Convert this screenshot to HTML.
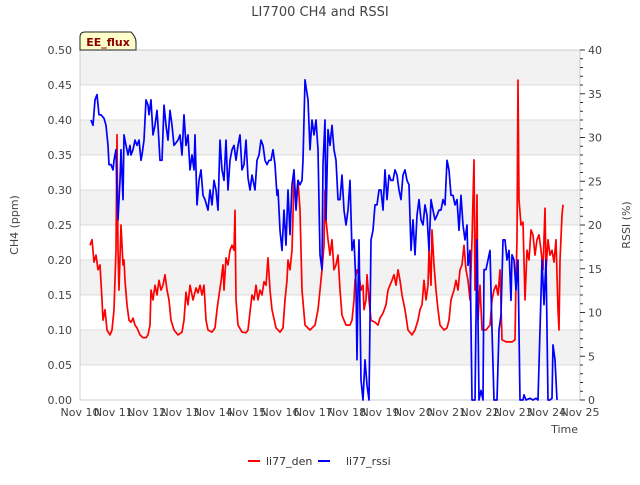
<!DOCTYPE html>
<html><head><meta charset="utf-8"><style>
body{margin:0;background:#fff;font-family:"Liberation Sans",sans-serif}
svg text{font-family:"DejaVu Sans","Liberation Sans",sans-serif}
</style></head><body>
<svg id="chart" width="640" height="480" xmlns="http://www.w3.org/2000/svg">
<g id="bands"></g><g id="grid"></g><g id="axes"></g><g id="series"></g>
<text x="320" y="16" text-anchor="middle" font-size="13" fill="#444">LI7700 CH4 and RSSI</text>
<text transform="translate(18,225) rotate(-90)" text-anchor="middle" font-size="11" fill="#444">CH4 (ppm)</text>
<text transform="translate(630,225) rotate(-90)" text-anchor="middle" font-size="11" fill="#444">RSSI (%)</text>
<text x="578" y="433" text-anchor="end" font-size="11" fill="#444">Time</text>
<g>
<path d="M80,50 L80,37 Q80,32 85,32 L131,32 Q136,37 136,42 L136,50 Z" fill="#ffffcc" stroke="#222" stroke-width="1"/>
<text x="108" y="46" text-anchor="middle" font-size="11" font-weight="bold" fill="#8b0000">EE_flux</text>
</g>
<g>
<line x1="248" y1="461" x2="260" y2="461" stroke="#f00" stroke-width="2"/>
<text x="266" y="465" font-size="11" fill="#333">li77_den</text>
<line x1="318" y1="461" x2="330" y2="461" stroke="#00f" stroke-width="2"/>
<text x="346" y="465" font-size="11" fill="#333">li77_rssi</text>
</g>
</svg>
<script>
const xTickLabels=["Nov 10","Nov 11","Nov 12","Nov 13","Nov 14","Nov 15","Nov 16","Nov 17","Nov 18","Nov 19","Nov 20","Nov 21","Nov 22","Nov 23","Nov 24","Nov 25"];
const leftTicks=[0,0.05,0.1,0.15,0.2,0.25,0.3,0.35,0.4,0.45,0.5];
const rightTicks=[0,5,10,15,20,25,30,35,40];
const denTime=[10.30,10.36,10.42,10.48,10.54,10.60,10.66,10.69,10.75,10.81,10.90,10.96,11.02,11.08,11.11,11.14,11.17,11.23,11.29,11.32,11.35,11.41,11.47,11.53,11.59,11.65,11.71,11.80,11.89,11.98,12.04,12.10,12.13,12.19,12.25,12.31,12.37,12.43,12.49,12.55,12.61,12.67,12.73,12.82,12.94,13.06,13.12,13.18,13.24,13.30,13.39,13.48,13.54,13.60,13.66,13.72,13.78,13.84,13.96,14.05,14.11,14.17,14.23,14.29,14.32,14.38,14.44,14.50,14.56,14.62,14.65,14.68,14.74,14.86,14.98,15.04,15.10,15.16,15.22,15.28,15.34,15.40,15.46,15.52,15.58,15.64,15.70,15.76,15.88,16.00,16.09,16.15,16.21,16.24,16.30,16.36,16.42,16.48,16.54,16.60,16.66,16.75,16.90,17.05,17.14,17.20,17.26,17.32,17.35,17.38,17.44,17.50,17.56,17.62,17.68,17.74,17.80,17.86,17.98,18.10,18.16,18.22,18.25,18.31,18.37,18.43,18.49,18.52,18.58,18.61,18.67,18.73,18.85,18.94,19.00,19.09,19.18,19.24,19.30,19.36,19.42,19.48,19.54,19.60,19.66,19.75,19.84,19.96,20.05,20.14,20.20,20.26,20.32,20.38,20.44,20.47,20.53,20.56,20.62,20.68,20.74,20.80,20.92,21.01,21.07,21.13,21.22,21.28,21.34,21.40,21.46,21.52,21.58,21.64,21.70,21.76,21.82,21.85,21.88,21.91,21.94,22.00,22.06,22.18,22.30,22.36,22.42,22.48,22.54,22.60,22.66,22.78,22.96,23.05,23.08,23.11,23.14,23.17,23.23,23.29,23.35,23.41,23.47,23.53,23.59,23.65,23.71,23.77,23.83,23.89,23.95,23.98,24.04,24.10,24.16,24.22,24.28,24.34,24.37,24.40,24.46,24.49];
const denValues=[.221,.229,.197,.207,.186,.193,.143,.114,.129,.100,.093,.100,.129,.214,.379,.214,.157,.250,.193,.200,.171,.136,.114,.111,.117,.107,.103,.093,.089,.089,.093,.107,.157,.143,.164,.150,.171,.157,.164,.179,.157,.143,.114,.100,.093,.097,.114,.154,.136,.164,.143,.160,.153,.164,.150,.164,.114,.100,.097,.103,.129,.150,.169,.193,.157,.203,.193,.214,.221,.214,.271,.143,.107,.097,.096,.100,.126,.150,.143,.164,.143,.157,.150,.169,.164,.203,.157,.129,.103,.097,.103,.143,.171,.200,.186,.214,.314,.286,.314,.271,.157,.107,.100,.107,.129,.157,.186,.221,.300,.257,.229,.207,.229,.186,.193,.207,.157,.121,.107,.107,.114,.143,.171,.186,.179,.157,.164,.129,.143,.179,.143,.114,.111,.107,.117,.124,.136,.157,.164,.171,.179,.164,.186,.171,.150,.129,.100,.093,.100,.114,.129,.136,.171,.143,.164,.214,.164,.243,.193,.157,.129,.107,.100,.103,.114,.143,.157,.171,.157,.186,.193,.221,.186,.171,.143,.229,.343,.157,.200,.293,.114,.164,.100,.100,.107,.143,.157,.164,.150,.186,.086,.083,.083,.086,.171,.229,.457,.286,.250,.254,.143,.214,.200,.243,.236,.207,.229,.236,.214,.186,.274,.186,.229,.207,.214,.197,.229,.129,.100,.200,.264,.279];
const rssiTime=[10.33,10.39,10.45,10.51,10.57,10.63,10.72,10.78,10.84,10.87,10.93,10.99,11.02,11.08,11.11,11.14,11.20,11.23,11.29,11.32,11.38,11.44,11.50,11.53,11.59,11.65,11.71,11.77,11.83,11.86,11.92,11.98,12.04,12.07,12.13,12.19,12.25,12.31,12.34,12.40,12.46,12.52,12.58,12.64,12.70,12.76,12.82,12.88,12.94,13.00,13.06,13.12,13.18,13.24,13.30,13.36,13.42,13.45,13.51,13.57,13.63,13.69,13.75,13.84,13.90,13.96,14.02,14.08,14.14,14.20,14.26,14.32,14.38,14.44,14.50,14.56,14.62,14.68,14.74,14.80,14.86,14.92,14.98,15.04,15.10,15.16,15.25,15.31,15.37,15.43,15.49,15.55,15.61,15.67,15.73,15.79,15.85,15.91,15.94,16.00,16.06,16.12,16.18,16.24,16.30,16.36,16.42,16.48,16.54,16.60,16.66,16.69,16.75,16.84,16.90,16.96,17.02,17.08,17.14,17.20,17.26,17.29,17.35,17.38,17.44,17.50,17.56,17.62,17.68,17.74,17.80,17.86,17.92,17.98,18.04,18.10,18.16,18.22,18.28,18.31,18.34,18.37,18.43,18.49,18.55,18.61,18.67,18.73,18.79,18.85,18.91,18.97,19.03,19.09,19.15,19.21,19.27,19.33,19.39,19.45,19.51,19.57,19.63,19.69,19.75,19.81,19.87,19.93,19.99,20.05,20.11,20.17,20.23,20.29,20.35,20.41,20.47,20.53,20.59,20.65,20.71,20.77,20.83,20.89,20.95,21.01,21.07,21.13,21.19,21.25,21.31,21.37,21.43,21.49,21.55,21.61,21.64,21.70,21.76,21.85,21.91,21.97,22.03,22.09,22.12,22.18,22.24,22.30,22.36,22.42,22.51,22.57,22.63,22.69,22.75,22.81,22.87,22.93,22.96,23.02,23.08,23.14,23.20,23.29,23.32,23.38,23.50,23.59,23.68,23.74,23.80,23.86,23.92,23.98,24.04,24.10,24.16,24.19,24.25,24.31];
const rssiValues=[32.0,31.4,34.3,34.9,32.6,32.6,32.2,31.4,29.1,26.9,26.9,26.3,27.4,28.6,23.4,20.6,25.1,28.6,22.9,30.3,29.1,28.0,29.1,28.0,28.6,29.7,29.1,29.7,27.4,28.0,29.7,34.3,33.7,32.6,34.3,30.3,31.4,33.1,31.4,27.4,27.4,33.7,31.4,29.7,33.1,31.4,29.1,29.4,29.7,30.3,28.0,32.6,29.1,30.3,26.3,28.0,26.3,30.3,22.3,25.1,26.3,23.4,22.9,21.7,24.0,22.3,25.1,24.0,21.7,29.7,26.3,25.1,29.7,24.0,27.4,28.6,29.1,27.4,29.1,30.3,26.3,26.9,29.7,25.4,24.0,25.7,24.0,27.4,28.0,29.7,29.1,27.4,26.9,27.4,27.4,28.6,26.9,23.4,24.0,19.4,17.1,21.7,17.7,24.0,18.9,24.6,26.3,21.7,25.1,24.6,25.1,27.4,36.6,34.3,28.6,32.0,30.3,32.0,28.6,16.6,14.9,26.9,32.0,20.6,30.9,29.1,31.4,28.6,27.4,22.9,22.9,25.7,21.7,20.0,21.7,25.1,17.1,18.3,13.1,4.6,12.6,18.3,2.3,0,4.6,1.7,0,18.3,19.4,22.3,22.3,24.0,24.0,21.7,26.3,22.9,25.7,25.1,25.1,26.3,25.7,24.0,22.9,25.7,26.3,25.1,24.6,17.1,20.6,16.6,21.1,22.9,20.6,20.0,22.3,21.1,17.1,22.9,21.7,20.6,21.1,21.7,21.7,22.9,22.3,27.4,26.3,23.4,23.4,22.3,22.9,19.4,23.4,20.0,18.3,20.0,15.4,17.1,0,0,18.3,0,1.1,0,14.9,14.9,16.0,17.1,8.0,0,0,8.0,9.7,18.3,18.3,16.0,17.1,11.4,16.6,16.0,12.6,16.0,0,0,0.6,0,0.2,0,0.2,0,8.0,16.0,10.9,16.0,0,0,0.2,6.3,4.6,0];

const NS="http://www.w3.org/2000/svg";
const L=80,R=580,T=50,B=400;
const xS=d=>L+(d-10)/15*(R-L);
const yL=v=>B-v/0.5*(B-T);
const yR=v=>B-v/40*(B-T);
function mk(tag,attrs,parent){const e=document.createElementNS(NS,tag);for(const k in attrs)e.setAttribute(k,attrs[k]);document.getElementById(parent).appendChild(e);return e;}
// bands
for(let i=1;i<leftTicks.length-1;i+=2){
  const b=mk('rect',{x:L,y:yL(leftTicks[i+1]),width:R-L,height:yL(leftTicks[i])-yL(leftTicks[i+1]),fill:'#f2f2f2'},'bands');
  
  
}
leftTicks.forEach(v=>{
  const g=mk('line',{x1:L,x2:R,y1:yL(v),y2:yL(v),stroke:'#dcdcdc','stroke-width':1},'grid');
  
  
  const t=mk('text',{x:L-8,y:yL(v)+4,'text-anchor':'end','font-size':11,fill:'#444'},'axes');
  t.textContent=v.toFixed(2);
  
  
});
const fr=mk('rect',{x:L,y:T,width:R-L,height:B-T,fill:'none',stroke:'#ccc'},'axes');


for(let v=0;v<=40;v++){
  const major=v%5===0;
  const tk=mk('line',{x1:R,x2:R+(major?5:3),y1:yR(v),y2:yR(v),stroke:'#333'},'axes');
  
  
}
rightTicks.forEach(v=>{
  const t=mk('text',{x:R+8,y:yR(v)+4,'font-size':11,fill:'#444'},'axes');
  t.textContent=v;
  
  
});
xTickLabels.forEach((s,i)=>{
  const t=mk('text',{x:xS(10+i),y:B+16,'text-anchor':'middle','font-size':11,fill:'#444'},'axes');
  t.textContent=s;
  
  
});
const dR=denTime.map((d,i)=>(i?'L':'M')+xS(d).toFixed(1)+','+yL(denValues[i]).toFixed(1)).join('');
const pR=mk('path',{d:dR,fill:'none',stroke:'#ff0000','stroke-width':1.7,'stroke-linejoin':'round'},'series');


const dB=rssiTime.map((d,i)=>(i?'L':'M')+xS(d).toFixed(1)+','+yR(rssiValues[i]).toFixed(1)).join('');
const pB=mk('path',{d:dB,fill:'none',stroke:'#0000ff','stroke-width':1.7,'stroke-linejoin':'round'},'series');


</script>
</body></html>
